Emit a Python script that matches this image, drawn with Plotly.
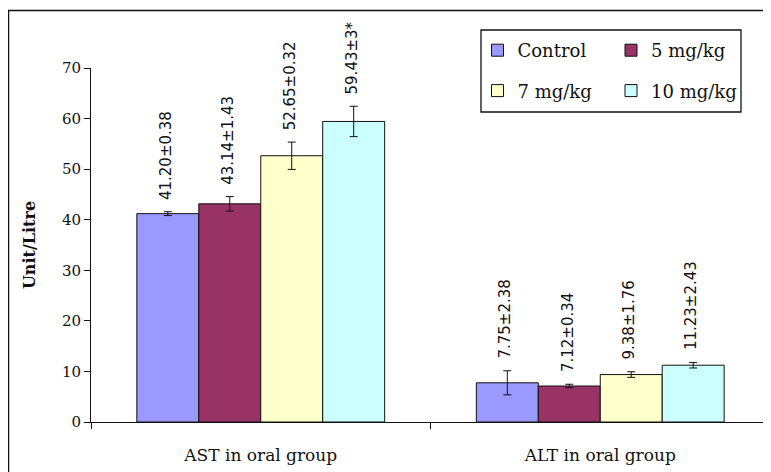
import plotly.graph_objects as go

# ---- data ----
categories = ["AST in oral group", "ALT in oral group"]
series_names = ["Control", "5 mg/kg", "7 mg/kg", "10 mg/kg"]
values = {
    "Control": [41.20, 7.75],
    "5 mg/kg": [43.14, 7.12],
    "7 mg/kg": [52.65, 9.38],
    "10 mg/kg": [59.43, 11.23],
}
errors = {
    "Control": [0.38, 2.38],
    "5 mg/kg": [1.43, 0.34],
    "7 mg/kg": [2.70, 0.55],
    "10 mg/kg": [3.00, 0.55],
}
labels = {
    "Control": ["41.20±0.38", "7.75±2.38"],
    "5 mg/kg": ["43.14±1.43", "7.12±0.34"],
    "7 mg/kg": ["52.65±0.32", "9.38±1.76"],
    "10 mg/kg": ["59.43±3*", "11.23±2.43"],
}
colors = ["#9999FF", "#993366", "#FFFFCC", "#CCFFFF"]
y_ticks = [0, 10, 20, 30, 40, 50, 60, 70]

# ---- layout geometry (page body has an 8px margin) ----
OFF = 8
W, H = 771 - OFF, 472 - OFF
ML, MR, MT, MB = 91 - OFF, 1, 68 - OFF, 50
PW, PH = W - ML - MR, H - MT - MB
BARGAP = 0.27


def px_x(p):  # screen pixel -> paper x
    return (p - OFF - ML) / PW


def px_y(p):  # screen pixel -> paper y
    return (H - MB - (p - OFF)) / PH


fig = go.Figure()
for i, name in enumerate(series_names):
    fig.add_trace(go.Bar(
        name=name,
        x=categories,
        y=values[name],
        marker=dict(color=colors[i], line=dict(color="#111111", width=1)),
        error_y=dict(type="data", array=errors[name], visible=True,
                     color="#111111", thickness=1, width=4),
        legend="legend" if i % 2 == 0 else "legend2",
        legendgroup=name,
    ))

# data labels above error bars
n = len(series_names)
bw = (1 - BARGAP) / n
for i, name in enumerate(series_names):
    off = -(1 - BARGAP) / 2 + bw * (i + 0.5)
    for j, cat in enumerate(categories):
        fig.add_annotation(
            x=j + off, y=values[name][j] + errors[name][j],
            xref="x", yref="y",
            text=labels[name][j], textangle=-90,
            showarrow=False, xanchor="center", yanchor="bottom",
            yshift=10, xshift=-2,
            font=dict(family="DejaVu Sans", size=15, color="#111111"),
        )

# legend box and outer border
fig.add_shape(type="rect", xref="paper", yref="paper",
              x0=px_x(481), x1=px_x(741), y0=px_y(112), y1=px_y(30),
              line=dict(color="#111111", width=1.3), fillcolor="rgba(0,0,0,0)")
fig.add_shape(type="rect", xref="paper", yref="paper",
              x0=px_x(8.5), x1=px_x(790), y0=px_y(490), y1=px_y(10.5),
              line=dict(color="#111111", width=1.5), fillcolor="rgba(0,0,0,0)")

legend_common = dict(
    font=dict(family="DejaVu Serif", size=18, color="#111111"),
    bgcolor="rgba(0,0,0,0)", borderwidth=0,
    orientation="v", tracegroupgap=14,
    xanchor="left", yanchor="top",
)
fig.update_layout(
    width=W, height=H,
    margin=dict(l=ML, r=MR, t=MT, b=MB),
    paper_bgcolor="white", plot_bgcolor="white",
    barmode="group", bargap=BARGAP, bargroupgap=0,
    legend=dict(x=px_x(477.5), y=px_y(32), **legend_common),
    legend2=dict(x=px_x(611), y=px_y(32), **legend_common),
    xaxis=dict(
        showline=True, linecolor="#111111", linewidth=1,
        ticks="outside", ticklen=6, tickcolor="#111111", tickson="boundaries",
        tickfont=dict(family="DejaVu Serif", size=17, color="#111111"),
        ticklabelstandoff=18,
        showgrid=False, zeroline=False,
    ),
    yaxis=dict(
        range=[0, 70], tickvals=y_ticks,
        showline=True, linecolor="#111111", linewidth=1,
        ticks="outside", ticklen=6, tickcolor="#111111",
        tickfont=dict(family="DejaVu Serif", size=15, color="#111111"),
        showgrid=False, zeroline=False,
        title=dict(text="<b>Unit/Litre</b>", standoff=22,
                   font=dict(family="DejaVu Serif", size=16, color="#111111")),
    ),
)

fig.write_html("out.html")
